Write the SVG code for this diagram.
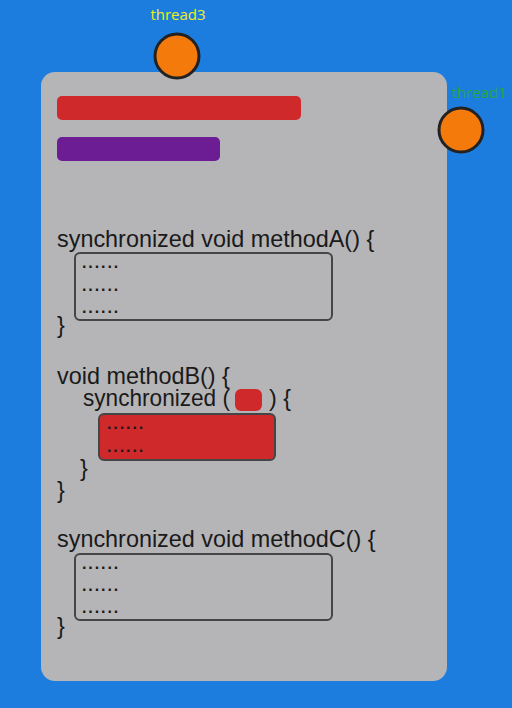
<svg xmlns="http://www.w3.org/2000/svg" width="512" height="708" viewBox="0 0 512 708">
<style>
.code{font-family:"Liberation Sans",Arial,sans-serif;font-size:23.4px;fill:#1a1a1a}
.dots{font-family:"Liberation Sans",Arial,sans-serif;font-size:16px;letter-spacing:1.9px;font-weight:bold;fill:#1a1a1a}
.box{fill:none;stroke:#454545;stroke-width:2}
.thread{fill:#f57a0c;stroke:#222;stroke-width:3}
.lbl{font-family:"Open Sans","Noto Sans",sans-serif;font-size:15px}
</style>
<rect x="0" y="0" width="512" height="708" fill="#1d7ddf"/>
<g id="card">
<rect x="41" y="72" width="406" height="609" rx="14" fill="#b5b4b6"/>
<rect x="57" y="96" width="244" height="24" rx="5" fill="#d0292c"/>
<rect x="57" y="137" width="163" height="24" rx="5" fill="#6d1d94"/>
</g>
<g id="methodA">
<text class="code" x="57" y="247">synchronized void methodA() {</text>
<rect class="box" x="75" y="253" width="257" height="67" rx="5"/>
<text class="dots" x="82" y="268">......</text>
<text class="dots" x="82" y="291">......</text>
<text class="dots" x="82" y="313">......</text>
<text class="code" x="57" y="333">}</text>
</g>
<g id="methodB">
<text class="code" x="57" y="384">void methodB() {</text>
<text class="code" x="83" y="406" textLength="147" lengthAdjust="spacingAndGlyphs">synchronized (</text>
<rect x="235" y="389" width="27" height="22" rx="6" fill="#d0292c"/>
<text class="code" x="269" y="406">) {</text>
<rect x="99" y="414" width="176" height="46" rx="5" fill="#d0292c" stroke="#454545" stroke-width="2"/>
<text class="dots" x="107" y="429">......</text>
<text class="dots" x="107" y="452">......</text>
<text class="code" x="80" y="476">}</text>
<text class="code" x="57" y="498">}</text>
</g>
<g id="methodC">
<text class="code" x="57" y="547">synchronized void methodC() {</text>
<rect class="box" x="75" y="554" width="257" height="66" rx="5"/>
<text class="dots" x="82" y="569">......</text>
<text class="dots" x="82" y="591">......</text>
<text class="dots" x="82" y="613">......</text>
<text class="code" x="57" y="634">}</text>
</g>
<g id="thread3">
<circle class="thread" cx="177" cy="56" r="22"/>
<text class="lbl" x="178" y="20" text-anchor="middle" fill="#f2ee1a">thread3</text>
</g>
<g id="thread1">
<circle class="thread" cx="461" cy="130" r="22"/>
<text class="lbl" x="479" y="98" text-anchor="middle" fill="#22a83a">thread1</text>
</g>
<g id="connectors"></g>
</svg>
